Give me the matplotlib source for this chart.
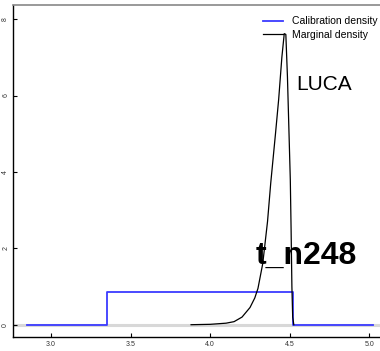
import numpy as np
import matplotlib.pyplot as plt

plt.rcParams['font.family'] = ['Liberation Sans', 'DejaVu Sans']

# calibration (uniform prior) density
calib_x = [2.85, 3.35, 3.35, 4.52, 4.52, 5.02]
calib_y = [0.0, 0.0, 0.855, 0.855, 0.0, 0.0]

# marginal posterior density of the node age
marg_x = [3.88, 4.00, 4.10, 4.15, 4.20, 4.25, 4.28, 4.30, 4.33, 4.36, 4.38,
          4.41, 4.43, 4.45, 4.465, 4.475, 4.485, 4.495, 4.503, 4.508, 4.513, 4.518, 4.525]
marg_y = [0.0, 0.01, 0.04, 0.08, 0.2, 0.45, 0.7, 0.95, 1.6, 2.7, 3.7,
          5.0, 5.9, 7.0, 7.62, 7.6, 6.5, 5.0, 3.8, 2.5, 1.0, 0.2, 0.0]

xticks = [3.0, 3.5, 4.0, 4.5, 5.0]
yticks = [0, 2, 4, 6, 8]

fig = plt.figure(figsize=(3.8, 3.51), dpi=100)
ax = fig.add_axes([13.3 / 380, (351 - 336.7) / 351, 1 - 13.3 / 380 + 0.01, (336.7 - 5) / 351])

ax.axhline(0, color='#d8d8d8', lw=2.2, zorder=1)
ax.plot(calib_x, calib_y, color='#3a3aff', lw=1.3, label='Calibration density', zorder=2)
ax.plot(marg_x, marg_y, color='black', lw=0.9, label='Marginal density', zorder=3)

ax.set_xlim(2.764, 5.09)
ax.set_ylim(-0.314, 8.37)
ax.set_xticks(xticks)
ax.set_xticklabels(['%.1f' % v for v in xticks])
ax.set_yticks(yticks)
ax.set_yticklabels([str(v) for v in yticks], rotation=90, va='center')
ax.tick_params(direction='in', length=3, width=0.8, labelsize=5, labelcolor='#333333', pad=3)

ax.spines['right'].set_visible(False)
ax.spines['top'].set_color('#888888')
ax.spines['top'].set_linewidth(1.2)
ax.spines['left'].set_linewidth(1.0)
ax.spines['bottom'].set_linewidth(1.0)

ax.legend(loc='upper right', bbox_to_anchor=(1.0, 0.985), frameon=False, fontsize=7.5,
          handlelength=1.9, handletextpad=0.85, labelspacing=0.35, borderaxespad=0.2)

ax.text(4.54, 6.15, 'LUCA', fontsize=15, ha='left', va='baseline')
ax.text(4.603, 1.6, 't_n248', fontsize=23, fontweight='bold', ha='center', va='baseline')

fig.savefig('out.png', dpi=100)
